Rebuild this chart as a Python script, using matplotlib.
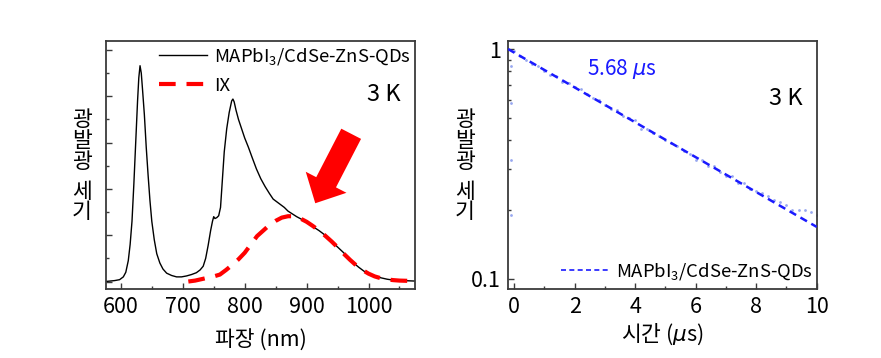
import numpy as np
import matplotlib
matplotlib.use("Agg")
import matplotlib.pyplot as plt
from matplotlib.patches import FancyArrowPatch
from matplotlib.ticker import MultipleLocator, NullFormatter

plt.rcParams['font.family'] = ['Noto Sans CJK KR', 'DejaVu Sans']
plt.rcParams['mathtext.fontset'] = 'custom'
plt.rcParams['mathtext.rm'] = 'Noto Sans CJK KR'
plt.rcParams['mathtext.it'] = 'DejaVu Sans:italic'

# PL spectrum (left)
wl = [575, 590, 598, 604, 608, 612, 615, 618, 621, 624, 627, 629, 631, 633, 635,
      638, 641, 644, 647, 650, 654, 658, 663, 668, 674, 682, 690, 698, 706, 714,
      722, 728, 733, 737, 741, 745, 748, 750, 752, 755, 758, 761, 764, 767, 771,
      775, 779, 781, 783, 786, 790, 795, 800, 806, 812, 819, 826, 833, 840, 846,
      852, 858, 864, 870, 877, 884, 891, 898, 905, 912, 920, 928, 936, 944, 952,
      960, 968, 976, 984, 992, 1000, 1010, 1020, 1030, 1040, 1055, 1075]
pl = [0.0, 0.02, 0.04, 0.1, 0.2, 0.45, 0.8, 1.3, 2.1, 3.0, 3.9, 4.4, 4.66, 4.5, 4.15,
      3.6, 2.9, 2.3, 1.75, 1.3, 0.9, 0.6, 0.4, 0.27, 0.18, 0.13, 0.1, 0.1, 0.12, 0.15,
      0.19, 0.25, 0.33, 0.5, 0.78, 1.1, 1.3, 1.4, 1.36, 1.38, 1.42, 1.6, 2.2, 2.8, 3.3,
      3.65, 3.9, 3.94, 3.88, 3.7, 3.5, 3.3, 3.1, 2.9, 2.68, 2.43, 2.22, 2.05, 1.9, 1.78,
      1.72, 1.66, 1.6, 1.52, 1.46, 1.4, 1.35, 1.3, 1.24, 1.17, 1.1, 1.02, 0.92, 0.82, 0.72,
      0.62, 0.5, 0.4, 0.31, 0.23, 0.16, 0.11, 0.08, 0.05, 0.03, 0.02, 0.01]

ix_wl = [709, 720, 730, 740, 750, 760, 770, 780, 790, 800, 810, 820, 830, 840, 850,
         860, 870, 880, 890, 900, 910, 920, 930, 940, 950, 960, 970, 980, 990, 1000,
         1010, 1020, 1030, 1040, 1050, 1075]
ix = [0.0, 0.02, 0.05, 0.08, 0.11, 0.15, 0.25, 0.36, 0.48, 0.62, 0.8, 0.98, 1.1, 1.22, 1.31,
      1.38, 1.41, 1.41, 1.36, 1.29, 1.2, 1.1, 0.99, 0.87, 0.74, 0.6, 0.47, 0.35, 0.25, 0.17,
      0.11, 0.07, 0.045, 0.03, 0.02, 0.01]

# TRPL decay (right)
t_dat = [-0.1, -0.1, -0.1, -0.1, 0.0, 0.2, 0.4, 0.6, 0.8, 1.0, 1.2, 1.4, 1.6, 1.8, 2.0,
         2.2, 2.4, 2.6, 2.8, 3.0, 3.2, 3.4, 3.6, 3.8, 4.0, 4.2, 4.4, 4.6, 4.8, 5.0,
         5.2, 5.4, 5.6, 5.8, 6.0, 6.2, 6.4, 6.6, 6.8, 7.0, 7.2, 7.4, 7.6, 7.8, 8.0,
         8.2, 8.4, 8.6, 8.8, 9.0, 9.2, 9.4, 9.6, 9.8, 10.0]
i_dat = [0.84, 0.58, 0.33, 0.19, 0.98, 0.93, 0.9, 0.86, 0.84, 0.8, 0.77, 0.76, 0.72, 0.71, 0.68,
         0.67, 0.64, 0.61, 0.6, 0.57, 0.55, 0.54, 0.51, 0.5, 0.49, 0.45, 0.45, 0.43, 0.42, 0.4,
         0.39, 0.38, 0.36, 0.35, 0.33, 0.33, 0.31, 0.31, 0.29, 0.28, 0.28, 0.26, 0.26, 0.245, 0.24,
         0.235, 0.23, 0.22, 0.215, 0.21, 0.2, 0.2, 0.2, 0.195, 0.19]
t_fit = [-0.2, 10.0]
i_fit = [1.0, 0.168]
tau_label = '5.68 $\\mu$s'

fig = plt.figure(figsize=(8.81, 3.58), dpi=100)
ax1 = fig.add_axes([0.1203, 0.1936, 0.3507, 0.6927])
ax2 = fig.add_axes([0.5763, 0.1936, 0.3507, 0.6927])

frame_c = '#3a3a3a'
for ax in (ax1, ax2):
    for s in ax.spines.values():
        s.set_linewidth(1.3)
        s.set_color(frame_c)
    ax.tick_params(which='both', direction='in', color=frame_c, labelsize=15.5, pad=5)
    ax.tick_params(which='major', length=4, width=1.0)
    ax.tick_params(which='minor', length=2.5, width=1.0)

# left panel
ax1.plot(wl, pl, color='black', lw=1.0, label='MAPbI$_3$/CdSe-ZnS-QDs')
ax1.plot(ix_wl, ix, color='#ff0000', lw=3.0, ls=(0, (4, 2.6)), label='IX')
ax1.set_xlim(576, 1075)
ax1.set_ylim(-0.155, 5.2)
ax1.xaxis.set_major_locator(MultipleLocator(100))
ax1.xaxis.set_minor_locator(MultipleLocator(50))
ax1.yaxis.set_major_locator(MultipleLocator(1))
ax1.yaxis.set_minor_locator(MultipleLocator(0.5))
ax1.yaxis.set_major_formatter(NullFormatter())
ax1.set_xlabel('파장 (nm)', fontsize=15.5, labelpad=9)
ax1.legend(loc='upper right', fontsize=13.3, frameon=False, handlelength=2.6,
           handletextpad=0.35, labelspacing=0.55, borderaxespad=0.2,
           bbox_to_anchor=(1.022, 1.025))
ax1.text(0.955, 0.785, '3 K', transform=ax1.transAxes, fontsize=17,
         ha='right', va='center')
arrow = FancyArrowPatch((972, 3.19), (914, 1.69), arrowstyle='simple,tail_width=16,head_width=33,head_length=17',
                        mutation_scale=1, color='#ff0000', shrinkA=0, shrinkB=0, lw=0)
ax1.add_patch(arrow)

# right panel
ax2.scatter(t_dat, i_dat, s=4, color='#98a8f0', lw=0, zorder=2)
ax2.plot(t_fit, i_fit, color='#1a1aff', lw=1.8, ls=(0, (3, 2)), zorder=3,
         label='MAPbI$_3$/CdSe-ZnS-QDs')
ax2.set_yscale('log')
ax2.set_xlim(-0.21, 10)
ax2.set_ylim(0.0904, 1.087)
ax2.xaxis.set_major_locator(MultipleLocator(2))
ax2.xaxis.set_minor_locator(MultipleLocator(1))
ax2.set_yticks([0.1, 1])
ax2.set_yticklabels(['0.1', '1'])
ax2.yaxis.set_minor_formatter(NullFormatter())
ax2.set_xlabel('시간 ($\\mu$s)', fontsize=15.5, labelpad=3)
leg2 = ax2.legend(loc='lower right', fontsize=13.3, frameon=False, handlelength=2.6,
                  handletextpad=0.35, borderaxespad=0.15, bbox_to_anchor=(1.02, -0.015))
for h in leg2.get_lines():
    h.set_linewidth(1.2)
ax2.text(0.955, 0.765, '3 K', transform=ax2.transAxes, fontsize=17,
         ha='right', va='center')
ax2.text(0.255, 0.885, tau_label, transform=ax2.transAxes, fontsize=15,
         color='#1a1aff', ha='left', va='center')

# stacked y labels
for xl in (82, 465):
    fig.text(xl / 881, 1 - 141 / 358, '광\n발\n광', fontsize=15.5, ha='center', va='center',
             linespacing=0.94)
    fig.text(xl / 881, 1 - 202 / 358, '세\n기', fontsize=15.5, ha='center', va='center',
             linespacing=0.94)

fig.savefig('out.png', dpi=100)
